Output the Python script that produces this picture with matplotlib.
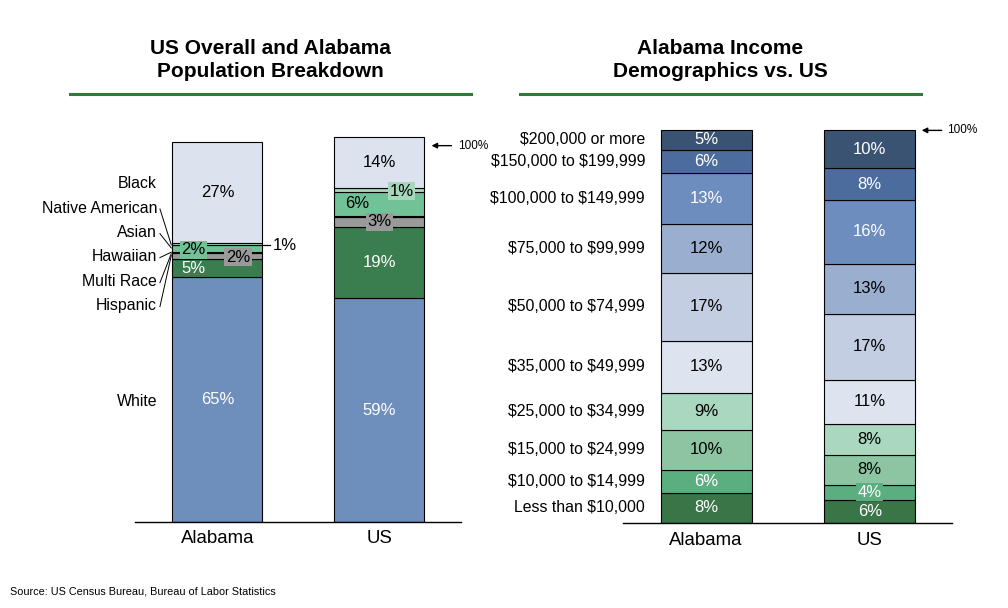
import matplotlib

matplotlib.use("Agg")
import matplotlib.pyplot as plt
from matplotlib.lines import Line2D

plt.rcParams["font.family"] = ["Liberation Sans", "DejaVu Sans"]

W, H = 1008, 608

# ---------------------------------------------------------------------------
# Data
# ---------------------------------------------------------------------------
places = ["Alabama", "US"]

race_groups = ["White", "Hispanic", "Multi Race", "Hawaiian", "Asian",
               "Native American", "Black"]
race_alabama = [63.5, 4.6, 1.6, 0.3, 1.8, 0.6, 26.0]
race_us = [58.0, 18.4, 2.7, 0.3, 6.0, 1.1, 13.3]
race_alabama_text = ["65%", "5%", "2%", "", "2%", "1%", "27%"]
race_us_text = ["59%", "19%", "3%", "", "6%", "1%", "14%"]

income_groups = ["Less than $10,000", "$10,000 to $14,999", "$15,000 to $24,999",
                 "$25,000 to $34,999", "$35,000 to $49,999", "$50,000 to $74,999",
                 "$75,000 to $99,999", "$100,000 to $149,999",
                 "$150,000 to $199,999", "$200,000 or more"]
income_alabama = [7.8, 5.7, 10.3, 9.4, 13.2, 17.3, 12.2, 13.2, 5.8, 5.1]
income_us = [6.0, 3.8, 7.6, 7.9, 11.2, 16.7, 12.7, 16.2, 8.1, 9.6]
income_alabama_text = ["8%", "6%", "10%", "9%", "13%", "17%", "12%", "13%", "6%", "5%"]
income_us_text = ["6%", "4%", "8%", "8%", "11%", "17%", "13%", "16%", "8%", "10%"]

# ---------------------------------------------------------------------------
# Styling
# ---------------------------------------------------------------------------
race_colors = ["#6E8EBB", "#3A7D4E", "#9A9A9A", "#4A4A4A", "#72C297",
               "#A6D7BB", "#DCE2EE"]
race_text_colors = ["white", "white", "black", "black", "black", "black", "black"]

income_colors = ["#3A7548", "#5AAE80", "#8DC5A3", "#A9D7BF", "#DDE3EF",
                 "#C3CEE2", "#9AAFCF", "#6C8DBE", "#4C6C9E", "#3B5373"]
income_text_colors = ["white", "white", "black", "black", "black",
                      "black", "black", "white", "white", "white"]

GREEN_RULE = "#2E7B35"
BAR_W = 0.556
SEG_FS = 12
LBL_FS = 11.4


def px_axes(fig, x0, y_top, x1, y_bot):
    return fig.add_axes([x0 / W, 1 - y_bot / H, (x1 - x0) / W, (y_bot - y_top) / H])


def style_axes(ax):
    for s in ("left", "right", "top"):
        ax.spines[s].set_visible(False)
    ax.spines["bottom"].set_linewidth(1.0)
    ax.set_yticks([])
    ax.set_xticks([0, 1])
    ax.set_xticklabels(places, fontsize=13.4)
    ax.tick_params(axis="x", length=0, pad=6)


def stack(ax, x, values, colors):
    bottoms = []
    b = 0.0
    for v, c in zip(values, colors):
        ax.bar(x, v, BAR_W, bottom=b, color=c, edgecolor="black", linewidth=0.8)
        bottoms.append(b)
        b += v
    return bottoms


def header(fig, cx, x0, x1, text):
    fig.text(cx / W, 1 - 60 / H, text, ha="center", va="center",
             fontsize=15, fontweight="bold", linespacing=1.25)
    fig.add_artist(Line2D([x0 / W, x1 / W], [1 - 94 / H] * 2,
                          color=GREEN_RULE, lw=2.2))


fig = plt.figure(figsize=(W / 100, H / 100), dpi=100)

# ---------------------------------------------------------------------------
# Left: population breakdown
# ---------------------------------------------------------------------------
ax1 = px_axes(fig, 135, 100, 461, 522)
ax1.set_xlim(-0.509, 1.504)
ax1.set_ylim(0, 422 / 3.86)
style_axes(ax1)
header(fig, 270, 70, 471, "US Overall and Alabama\nPopulation Breakdown")

# per-segment label tweaks: (dx, dy, boxed)
race_tweaks = {
    (0, 1): (-0.15, 0.0, False),
    (0, 2): (0.128, -0.3, True),
    (0, 4): (-0.149, -0.4, True),
    (1, 2): (0.0, 0.0, True),
    (1, 4): (-0.14, 0.0, False),
    (1, 5): (0.137, -0.2, True),
}

for i, (vals, texts) in enumerate([(race_alabama, race_alabama_text),
                                   (race_us, race_us_text)]):
    bottoms = stack(ax1, i, vals, race_colors)
    for j, (v, b, t) in enumerate(zip(vals, bottoms, texts)):
        if not t:
            continue
        yc = b + v / 2
        if (i, j) == (0, 5):
            # value sits outside the bar with a short tick
            ax1.plot([BAR_W / 2, BAR_W / 2 + 0.045], [yc - 0.4, yc - 0.4],
                     color="black", lw=0.9, clip_on=False)
            ax1.text(0.34, yc - 0.4, t, ha="left", va="center",
                     fontsize=SEG_FS, color="black")
            continue
        dx, dy, boxed = race_tweaks.get((i, j), (0.0, 0.0, False))
        bbox = None
        if boxed:
            bbox = dict(boxstyle="square,pad=0.1", facecolor=race_colors[j],
                        edgecolor="none")
        ax1.text(i + dx, yc + dy, t, ha="center", va="center", fontsize=SEG_FS,
                 color=race_text_colors[j], bbox=bbox, zorder=5)

# group names on the left with leader lines
label_y = {"Black": 87.6, "Native American": 81.3, "Asian": 74.9,
           "Hawaiian": 68.7, "Multi Race": 62.2, "Hispanic": 56.0, "White": 31.3}
leader_end = {"Native American": 71.8, "Asian": 71.0, "Hawaiian": 69.9,
              "Multi Race": 69.5, "Hispanic": 69.0}
for g in race_groups:
    ax1.text(-0.373, label_y[g], g, ha="right", va="center", fontsize=LBL_FS)
    if g in leader_end:
        ax1.plot([-0.355, -0.285], [label_y[g] - 0.2, leader_end[g]],
                 color="black", lw=0.7, clip_on=False)

top_us = sum(race_us)
ax1.annotate("", xy=(1.322, top_us - 2.3), xytext=(1.445, top_us - 2.3),
             arrowprops=dict(arrowstyle="-|>", color="black", lw=1,
                             mutation_scale=8, shrinkA=0, shrinkB=0),
             annotation_clip=False)
ax1.text(1.485, top_us - 2.3, "100%", ha="left", va="center", fontsize=8.5)

# ---------------------------------------------------------------------------
# Right: income demographics
# ---------------------------------------------------------------------------
ax2 = px_axes(fig, 623, 100, 951.7, 523.3)
ax2.set_xlim(-0.507, 1.5)
ax2.set_ylim(0, 423.3 / 3.937)
style_axes(ax2)
header(fig, 720, 520, 921, "Alabama Income\nDemographics vs. US")

for i, (vals, texts) in enumerate([(income_alabama, income_alabama_text),
                                   (income_us, income_us_text)]):
    bottoms = stack(ax2, i, vals, income_colors)
    for j, (v, b, t) in enumerate(zip(vals, bottoms, texts)):
        bbox = None
        if i == 1 and j == 1:
            bbox = dict(boxstyle="square,pad=0.08", facecolor=income_colors[j],
                        edgecolor="none")
        ax2.text(i, b + v / 2, t, ha="center", va="center", fontsize=SEG_FS,
                 color=income_text_colors[j], bbox=bbox, zorder=5)
        if i == 0:
            ax2.text(-0.372, b + v / 2, income_groups[j], ha="right",
                     va="center", fontsize=LBL_FS, parse_math=False)

top_us2 = sum(income_us)
ax2.annotate("", xy=(1.317, top_us2), xytext=(1.439, top_us2),
             arrowprops=dict(arrowstyle="-|>", color="black", lw=1,
                             mutation_scale=8, shrinkA=0, shrinkB=0),
             annotation_clip=False)
ax2.text(1.473, top_us2, "100%", ha="left", va="center", fontsize=8.5)

fig.text(10 / W, 1 - 592 / H, "Source: US Census Bureau, Bureau of Labor Statistics",
         ha="left", va="center", fontsize=7.8)

fig.savefig("out.png", dpi=100)
